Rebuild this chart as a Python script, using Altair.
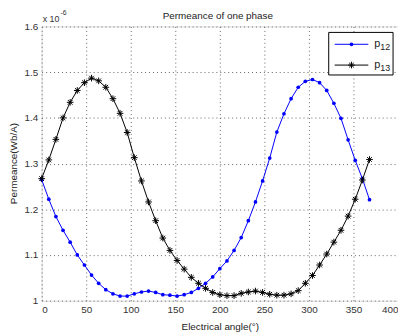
import altair as alt
import pandas as pd

# Data (values in units of 1e-6 Wb/A)
angle = list(range(0, 369, 8))
p12 = [1.265, 1.222, 1.184, 1.154, 1.128, 1.100, 1.078, 1.056, 1.038, 1.024,
       1.015, 1.010, 1.010, 1.015, 1.019, 1.021, 1.018, 1.013, 1.012, 1.010,
       1.013, 1.018, 1.027, 1.038, 1.052, 1.070, 1.087, 1.110, 1.138, 1.175,
       1.216, 1.262, 1.312, 1.369, 1.409, 1.442, 1.467, 1.480, 1.484, 1.477,
       1.460, 1.432, 1.399, 1.352, 1.307, 1.267, 1.221]
p13 = [1.267, 1.308, 1.353, 1.400, 1.434, 1.460, 1.477, 1.487, 1.481, 1.467,
       1.442, 1.410, 1.368, 1.313, 1.262, 1.216, 1.175, 1.137, 1.110, 1.088,
       1.069, 1.051, 1.038, 1.027, 1.018, 1.013, 1.011, 1.011, 1.016, 1.019,
       1.021, 1.018, 1.014, 1.012, 1.012, 1.015, 1.022, 1.038, 1.055, 1.078,
       1.102, 1.128, 1.154, 1.185, 1.222, 1.264, 1.309]
x_ticks = [0, 50, 100, 150, 200, 250, 300, 350, 400]
y_ticks = [1.0, 1.1, 1.2, 1.3, 1.4, 1.5, 1.6]
legend_names = ["p", "p"]
legend_subs = ["12", "13"]
chart_title = "Permeance of one phase"

FONT = "Liberation Sans"
ASTERISK = "M-1,0L1,0M0,-1L0,1M-0.7,-0.7L0.7,0.7M-0.7,0.7L0.7,-0.7"

df12 = pd.DataFrame({"angle": angle, "value": p12})
df13 = pd.DataFrame({"angle": angle, "value": p13})

common_axis = dict(labelFont=FONT, labelFontSize=10, labelColor="#333",
                   titleFont=FONT, titleFontSize=10, titleFontWeight="normal",
                   titleColor="#222", ticks=False, domain=False, grid=True,
                   gridColor="#666", gridDash=[1, 3], gridOpacity=1, gridWidth=1,
                   labelPadding=4, titleBaseline="middle")

xenc = alt.X("angle:Q", scale=alt.Scale(domain=[0, 400], nice=False),
             axis=alt.Axis(values=x_ticks, title="Electrical angle(°)", format="d",
                           titleX=180, titleY=26, **common_axis))
yenc = alt.Y("value:Q", scale=alt.Scale(domain=[1.0, 1.6], nice=False, zero=False),
             axis=alt.Axis(values=y_ticks, title="Permeance(Wb/A)", format=".1~f",
                           titleX=-28, titleY=138, **common_axis))

line12 = alt.Chart(df12).mark_line(color="#0000FF", strokeWidth=1).encode(x=xenc, y=yenc)
pts12 = alt.Chart(df12).mark_point(filled=True, shape="circle", size=14, color="#0000FF",
                                   opacity=1).encode(x=xenc, y=yenc)
line13 = alt.Chart(df13).mark_line(color="#000000", strokeWidth=1).encode(x=xenc, y=yenc)
pts13 = alt.Chart(df13).mark_point(filled=False, shape=ASTERISK, size=45, color="#000000",
                                   strokeWidth=1, opacity=1).encode(x=xenc, y=yenc)

one = pd.DataFrame({"k": [0]})

# Legend box
leg_box = alt.Chart(one).mark_rect(fill="white", stroke="black", strokeWidth=1).encode(
    x=alt.value(290), x2=alt.value(355), y=alt.value(6), y2=alt.value(49))
leg_layers = [leg_box]
colors = ["#0000FF", "#000000"]
shapes = ["circle", ASTERISK]
rows = [18, 39]
for i in range(2):
    leg_layers.append(alt.Chart(one).mark_rule(color=colors[i], strokeWidth=1).encode(
        x=alt.value(296), x2=alt.value(330), y=alt.value(rows[i])))
    leg_layers.append(alt.Chart(one).mark_point(
        filled=(i == 0), shape=shapes[i], size=14 if i == 0 else 45, color=colors[i],
        strokeWidth=1, opacity=1).encode(x=alt.value(313), y=alt.value(rows[i])))
    leg_layers.append(alt.Chart(one).mark_text(
        text=legend_names[i], font=FONT, fontSize=11, align="left", baseline="alphabetic",
        color="#222").encode(x=alt.value(336), y=alt.value(rows[i] + 3)))
    leg_layers.append(alt.Chart(one).mark_text(
        text=legend_subs[i], font=FONT, fontSize=9, align="left", baseline="alphabetic",
        color="#222").encode(x=alt.value(342), y=alt.value(rows[i] + 6)))

# Exponent annotation
exp_base = alt.Chart(one).mark_text(text="x 10", font=FONT, fontSize=9, align="left",
                                    baseline="alphabetic", color="#333").encode(
    x=alt.value(1), y=alt.value(-5))
exp_pow = alt.Chart(one).mark_text(text="-6", font=FONT, fontSize=7, align="left",
                                   baseline="alphabetic", color="#333").encode(
    x=alt.value(19), y=alt.value(-12))

# Chart title
title_txt = alt.Chart(one).mark_text(text=chart_title, font=FONT, fontSize=10,
                                     align="center", baseline="middle", color="#222").encode(
    x=alt.value(178), y=alt.value(-11))

chart = alt.layer(line12, pts12, line13, pts13, *leg_layers, exp_base, exp_pow,
                  title_txt).properties(
    width=360, height=277,
    autosize=alt.AutoSizeParams(type="none"),
    padding={"left": 34, "top": 17, "right": 0, "bottom": 31},
).configure_view(stroke="black", strokeWidth=1).configure(background="white")

chart.save("out.html", embed_options={"renderer": "svg", "actions": False})
